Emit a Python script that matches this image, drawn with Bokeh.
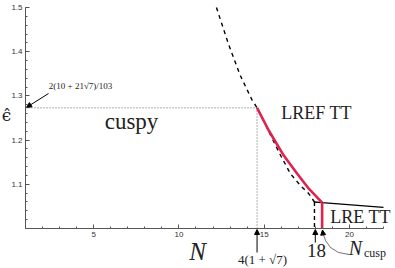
import numpy as np
from bokeh.plotting import figure
from bokeh.models import Range1d, FixedTicker, Label, Arrow, NormalHead, PolyAnnotation, LinearAxis
from bokeh.embed import file_html
from bokeh.resources import INLINE

# ---- data ----
n_star = 4 * (1 + np.sqrt(7))                # 14.583
eps_star = 2 * (10 + 21 * np.sqrt(7)) / 103  # 1.2730
n_18 = 18.0
n_cusp = 18.4

dashed_n = [12.2, 12.9, 13.6, 14.3, n_star, 15.2, 15.9, 16.54, 17.13, 17.62, 17.95]
dashed_e = [1.5, 1.418, 1.346, 1.29, eps_star, 1.225, 1.17, 1.124, 1.097, 1.0785, 1.06]
red_n = [n_star, 15.27, 16.15, 16.94, 17.62, n_cusp]
red_e = [eps_star, 1.2217, 1.165, 1.124, 1.090, 1.0585]
lre_n = [17.95, n_cusp, 22.0]
lre_e = [1.06, 1.0585, 1.048]

x_major = [5, 10, 15, 20]
y_major = [1.1, 1.2, 1.3, 1.4, 1.5]
x_minor = list(range(1, 23))
y_minor = [round(1.0 + 0.02 * i, 2) for i in range(26)]

x_min, x_max = 1.0, 22.0
y_min, y_max = 1.0, 1.5

SERIF = "Liberation Serif"
TXT = "#222222"
RED = "#e0234e"
AX = "#555555"

# frame covers the whole canvas; axes sit at fixed data locations inside it
W, H = 395, 268
left_px, right_px, top_px, bottom_px = 25, 383, 7, 228
sx = (right_px - left_px) / (x_max - x_min)
sy = (bottom_px - top_px) / (y_max - y_min)
xr = Range1d(x_min - left_px / sx, x_max + (W - right_px) / sx)
yr = Range1d(y_min - (H - bottom_px) / sy, y_max + top_px / sy)

p = figure(width=W, height=H, output_backend="svg", toolbar_location=None,
           x_range=xr, y_range=yr, x_axis_location=None, y_axis_location=None,
           min_border=0)
p.outline_line_color = None
p.background_fill_color = "white"
p.border_fill_color = "white"
for g in p.grid:
    g.visible = False

xa = LinearAxis(fixed_location=y_min, bounds=(x_min, x_max),
                ticker=FixedTicker(ticks=x_major, minor_ticks=x_minor))
ya = LinearAxis(fixed_location=x_min, bounds=(y_min, y_max),
                ticker=FixedTicker(ticks=y_major, minor_ticks=y_minor))
for ax in (xa, ya):
    ax.major_tick_in = 4
    ax.major_tick_out = 0
    ax.minor_tick_in = 2
    ax.minor_tick_out = 0
    ax.axis_line_color = AX
    ax.major_tick_line_color = AX
    ax.minor_tick_line_color = AX
    ax.major_label_text_font = "Liberation Sans"
    ax.major_label_text_font_size = "8px"
    ax.major_label_text_color = "#333333"
    ax.major_label_standoff = 3
p.add_layout(xa, "below")
p.add_layout(ya, "left")

# dotted guide lines
p.line([x_min, n_star], [eps_star, eps_star], line_color="#333333", line_width=0.8, line_dash="1 2")
p.line([n_star, n_star], [y_min, eps_star], line_color="#333333", line_width=0.8, line_dash="1 2")

# dashed black curve and vertical drop at N=18
p.line(dashed_n, dashed_e, line_color="black", line_width=1.4, line_dash="4 4")
p.line([dashed_n[-1], dashed_n[-1]], [dashed_e[-1], y_min], line_color="black", line_width=1.4, line_dash="4 3")

# LRE TT solid line
p.line(lre_n, lre_e, line_color="black", line_width=1.3)

# red LREF TT branch and vertical at N_cusp
p.line(red_n, red_e, line_color=RED, line_width=2.6)
p.line([n_cusp, n_cusp], [red_e[-1], y_min], line_color=RED, line_width=2.6)

# ---- texts ----
def lab(x, y, t, size, style="normal", font=SERIF, align="center"):
    p.add_layout(Label(x=x, y=y, text=t, text_font=font, text_font_size=size,
                       text_font_style=style, text_color=TXT,
                       text_align=align, text_baseline="middle"))

lab(7.22, 1.242, "cuspy", "23px")
lab(18.07, 1.2624, "LREF TT", "18px")
lab(20.65, 1.0271, "LRE TT", "18px")
lab(4.23, 1.3235, "2(10 + 21√7)/103", "9px")
lab(-0.11, 1.2557, "ϵ̂", "17px", font="DejaVu Serif")
lab(11.09, 0.948, "N", "25px", style="italic")
lab(14.9, 0.930, "4(1 + √7)", "13px")
lab(18.07, 0.950, "18", "19px")
lab(20.36, 0.955, "N", "20px", style="italic")
lab(20.85, 0.9445, "cusp", "12px", align="left")

def arr(x0, y0, x1, y1):
    p.add_layout(Arrow(end=NormalHead(size=5, fill_color="black", line_color="black"),
                       x_start=x0, y_start=y0, x_end=x1, y_end=y1,
                       line_color="black", line_width=1))

arr(2.35, 1.3054, x_min + 0.06, eps_star + 0.001)
arr(n_star, 0.9457, n_star, 0.9977)
arr(n_18, 0.9683, n_18, 0.9977)

# curved arrow towards N_cusp
cx = [20.0, 19.36, 18.89, 18.6, 18.45]
cy = [0.9412, 0.9457, 0.957, 0.9729, 0.9887]
p.add_layout(PolyAnnotation(xs=cx + cx[::-1], ys=cy + cy[::-1], fill_color=None,
                            line_color="black", line_width=1))
arr(18.45, 0.9887, 18.42, 0.9966)

open("out.html", "w").write(file_html(p, INLINE))
